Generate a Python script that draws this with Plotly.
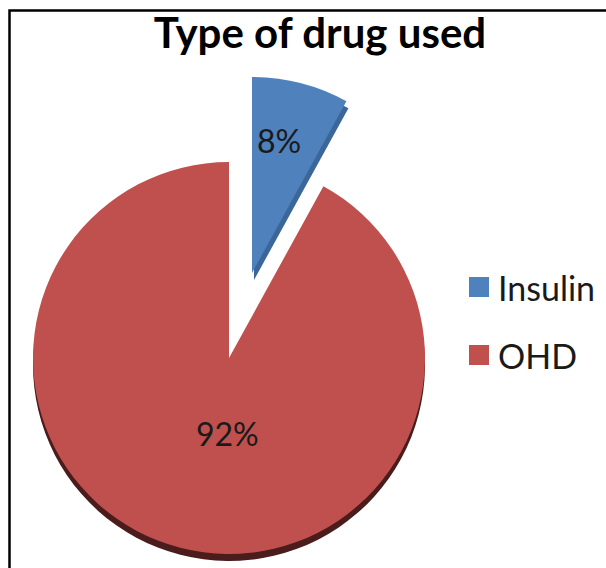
import plotly.graph_objects as go

# Drug type shares (percent of patients)
labels = ["Insulin", "OHD"]
shares = [8, 92]

colors = ["#4F81BD", "#C0504D"]
side_colors = ["#3B6699", "#4A1C1C"]
clear = "rgba(0,0,0,0)"

W, H = 606, 568
R = 196                      # pie radius in px
main_c = (229, 358)          # centre of the un-pulled pie (px from top-left)
pull_off = (23, -85)         # offset of the exploded Insulin slice
depth = (2, 7)               # visible thickness of the pie's side
pct_pos = [(279, 141), (227, 433)]   # where each slice's percentage sits


def domain(cx, cy):
    yb = H - cy
    return dict(x=[(cx - R) / W, (cx + R) / W], y=[(yb - R) / H, (yb + R) / H])


def pie(center, slice_colors):
    return go.Pie(
        labels=labels, values=shares, sort=False, direction="clockwise", rotation=0,
        domain=domain(*center),
        marker=dict(colors=slice_colors, line=dict(width=0)),
        textinfo="none", hoverinfo="label+percent", showlegend=False,
    )


ins_c = (main_c[0] + pull_off[0], main_c[1] + pull_off[1])

fig = go.Figure()
# side (thickness) of the pie, drawn underneath
fig.add_trace(pie((main_c[0], main_c[1] + depth[1]), [clear, side_colors[1]]))
fig.add_trace(pie((ins_c[0] + depth[0], ins_c[1] + depth[1]), [side_colors[0], clear]))
# top faces
fig.add_trace(pie(main_c, [clear, colors[1]]))
fig.add_trace(pie(ins_c, [colors[0], clear]))

total = sum(shares)
annotations = []
for v, (px, py) in zip(shares, pct_pos):
    annotations.append(dict(text=f"{round(100 * v / total)}%", xref="paper", yref="paper",
                            x=px / W, y=1 - py / H, xanchor="center", yanchor="middle",
                            showarrow=False,
                            font=dict(family="Lato", size=32, color="#1a1a1a")))

# legend: colour square + label per category
shapes = [dict(type="rect", xref="paper", yref="paper",
               x0=9.5 / W, x1=1.05, y0=-0.05, y1=1 - 10.5 / H,
               line=dict(color="black", width=2.5), fillcolor=clear, layer="above")]
leg_x, leg_y0, leg_step, sq = 469, 287, 68, 20
for i, (lab, col) in enumerate(zip(labels, colors)):
    yc = leg_y0 + i * leg_step
    shapes.append(dict(type="rect", xref="paper", yref="paper",
                       x0=leg_x / W, x1=(leg_x + sq) / W,
                       y0=1 - (yc + sq / 2) / H, y1=1 - (yc - sq / 2) / H,
                       line=dict(width=0), fillcolor=col))
    annotations.append(dict(text=lab, xref="paper", yref="paper",
                            x=(leg_x + sq + 7) / W, y=1 - yc / H,
                            xanchor="left", yanchor="middle", showarrow=False,
                            font=dict(family="Lato", size=34, color="#1a1a1a")))

fig.update_layout(
    width=W, height=H,
    margin=dict(l=0, r=0, t=0, b=0),
    paper_bgcolor="white", plot_bgcolor="white",
    title=dict(text="<b>Type of drug used</b>", x=320 / W, xanchor="center",
               y=1 - 33 / H, yanchor="middle",
               font=dict(family="Lato", size=42, color="black")),
    shapes=shapes, annotations=annotations,
)

fig.write_html("out.html")
